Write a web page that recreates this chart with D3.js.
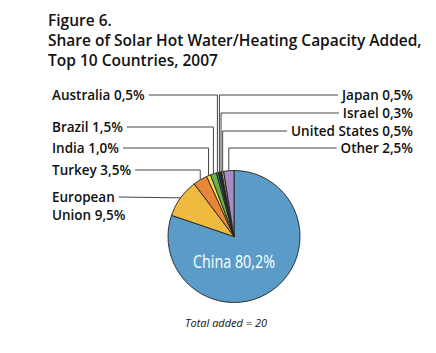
<!DOCTYPE html>
<html>
<head>
<meta charset="utf-8">
<script src="https://cdn.jsdelivr.net/npm/d3@7"></script>
<style>
  body { margin: 0; background: #fff; }
  text { font-family: "Open Sans", "Noto Sans", sans-serif; }
</style>
</head>
<body>
<svg id="chart" width="436" height="353"></svg>
<script>
/*  Data  */
const countries = ["China", "European Union", "Turkey", "India", "Brazil",
                   "Australia", "Japan", "Israel", "United States", "Other"];
const shares    = [80.2, 9.5, 3.5, 1.0, 1.5, 0.5, 0.5, 0.3, 0.5, 2.5];
const titleLines = ["Figure 6.",
                    "Share of Solar Hot Water/Heating Capacity Added,",
                    "Top 10 Countries, 2007"];
const note = "Total added = 20";

const palette = ["#5a9bc8", "#f0b93f", "#e8873b", "#f6d84c", "#6caf4f",
                 "#3d8b48", "#1e3a5c", "#2b2b2b", "#d2a56e", "#a88cc6"];

/*  Label layout: side and leader height  */
const labelLayout = {
  "European Union": { side: "left",  y: 197, lines: ["European", "Union 9,5%"] },
  "Turkey":         { side: "left",  y: 170 },
  "India":          { side: "left",  y: 148 },
  "Brazil":         { side: "left",  y: 127 },
  "Australia":      { side: "left",  y: 95 },
  "Japan":          { side: "right", y: 95 },
  "Israel":         { side: "right", y: 113 },
  "United States":  { side: "right", y: 131 },
  "Other":          { side: "right", y: 148 }
};

const fmt = v => v.toFixed(1).replace(".", ",") + "%";

const data = countries.map((c, i) => ({ country: c, share: shares[i] }));

const svg = d3.select("#chart");
const cx = 234, cy = 236.5, r = 66;
const leftX = 52, rightX = 413;

/*  Title  */
svg.append("g")
  .selectAll("text")
  .data(titleLines)
  .join("text")
    .attr("x", 48)
    .attr("y", (d, i) => 26 + i * 20)
    .attr("font-size", 15.5)
    .attr("font-weight", 600)
    .attr("fill", "#111")
    .text(d => d);

/*  Pie  */
const pie = d3.pie().sort(null).value(d => d.share);
const arc = d3.arc().innerRadius(0).outerRadius(r);
const color = d3.scaleOrdinal().domain(countries).range(palette);

const arcs = pie(data);

const g = svg.append("g").attr("transform", `translate(${cx},${cy})`);

g.selectAll("path")
  .data(arcs)
  .join("path")
    .attr("d", arc)
    .attr("fill", d => color(d.data.country))
    .attr("stroke", "#222")
    .attr("stroke-width", 0.9)
    .attr("stroke-linejoin", "round");

g.append("text")
  .attr("x", 0)
  .attr("y", 31)
  .attr("text-anchor", "middle")
  .attr("font-size", 17.5)
  .attr("textLength", 82)
  .attr("lengthAdjust", "spacingAndGlyphs")
  .attr("fill", "#fff")
  .text("China " + fmt(shares[0]));

/*  Labels and leaders  */
const labels = svg.append("g");

arcs.filter(d => labelLayout[d.data.country]).forEach(d => {
  const lay = labelLayout[d.data.country];
  const mid = (d.startAngle + d.endAngle) / 2;
  const px = cx + r * Math.sin(mid);
  const py = cy - r * Math.cos(mid);
  const lines = lay.lines || [d.data.country + " " + fmt(d.data.share)];

  const t = labels.append("text")
    .attr("font-size", 13.5)
    .attr("font-weight", 600)
    .attr("fill", "#111")
    .attr("text-anchor", lay.side === "left" ? "start" : "end");

  t.selectAll("tspan")
    .data(lines)
    .join("tspan")
      .attr("x", lay.side === "left" ? leftX : rightX)
      .attr("y", (l, i) => lay.y + 4.5 + i * 18)
      .text(l => l);

  const w = t.select("tspan").node().getComputedTextLength();
  const x0 = lay.side === "left" ? leftX + w + 4 : rightX - w - 4;

  const pts = lay.lines ? [[x0, lay.y], [px, py]]
                        : [[x0, lay.y], [px, lay.y], [px, py]];

  labels.append("path")
    .attr("d", d3.line()(pts))
    .attr("fill", "none")
    .attr("stroke", "#444")
    .attr("stroke-width", 1);
});

/*  Note  */
svg.append("text")
  .attr("x", 226)
  .attr("y", 327)
  .attr("text-anchor", "middle")
  .attr("font-size", 11)
  .attr("font-style", "italic")
  .attr("fill", "#111")
  .text(note);
</script>
</body>
</html>
